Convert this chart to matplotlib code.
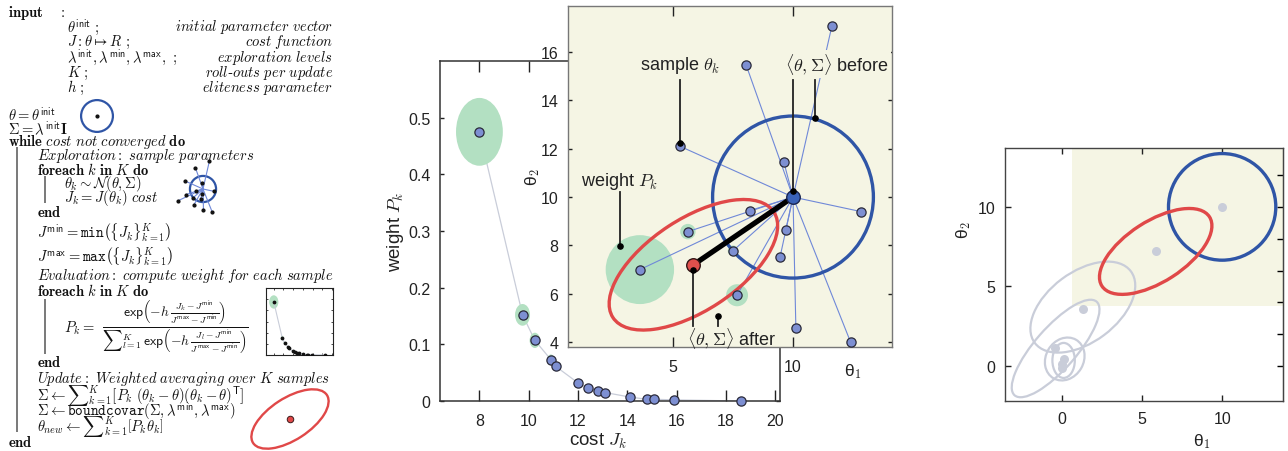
import numpy as np
import matplotlib
matplotlib.use('Agg')
import matplotlib.pyplot as plt
from matplotlib.patches import Ellipse, Circle, Rectangle

plt.rcParams['mathtext.fontset'] = 'cm'
plt.rcParams['font.family'] = ['Liberation Sans', 'DejaVu Sans']

# ---------------- data ----------------
cost = [8.0, 9.75, 10.25, 10.9, 11.1, 12.0, 12.4, 12.8, 13.1, 14.1, 14.8, 15.1, 15.9, 18.6]
weight = [0.475, 0.152, 0.107, 0.073, 0.061, 0.032, 0.023, 0.018, 0.015, 0.007, 0.003, 0.003, 0.002, 0.0]
sample_t1 = [3.62, 7.67, 5.62, 7.5, 10.12, 9.46, 8.2, 12.4, 9.7, 5.29, 9.62, 12.83, 8.04, 11.62]
sample_t2 = [7.0, 5.94, 8.57, 7.78, 4.57, 7.52, 9.44, 4.0, 8.65, 12.1, 11.44, 9.4, 15.48, 17.07]
mean_before = [10.0, 10.0]
radius_before = 3.35
mean_after = [5.85, 7.2]
after_axes = [4.0, 1.9]        # semi-axes of the updated covariance ellipse
after_angle = 33
hist_t1 = [1.3, -0.44, 0.1, 0.0, 0.0]
hist_t2 = [3.6, 1.13, 0.45, 0.1, -0.15]
hist_ell_t1 = [1.3, -0.4, 0.17, 0.1]
hist_ell_t2 = [3.7, 1.1, 0.44, 0.35]
hist_ell_a = [3.75, 3.9, 1.4, 1.1]
hist_ell_b = [2.2, 1.3, 1.18, 0.7]
hist_ell_ang = [37, 49, 60, 90]
w_xticks = [8, 10, 12, 14, 16, 18, 20]
w_yticks = [0, 0.1, 0.2, 0.3, 0.4, 0.5]
w_yticklabels = ['0', '0.1', '0.2', '0.3', '0.4', '0.5']
in_xticks = [5, 10]
in_yticks = [4, 6, 8, 10, 12, 14, 16]
r_ticks = [0, 5, 10]
r_right_ticks = [0, 2, 4, 6, 8, 10, 12]

# ---------------- style ----------------
W, H = 1288, 452
BLUE = '#2f55a6'
RED = '#e04848'
GREEN = '#b3e0c2'
PT = '#7d8fd2'
LINE = '#6f88d8'
BG = '#f5f5e4'
GRAY = '#c9cdd9'
TXT = '#222222'

fig = plt.figure(figsize=(W / 100, H / 100), dpi=100)


def px_axes(x0, y0, x1, y1, **kw):
    return fig.add_axes([x0 / W, 1 - y1 / H, (x1 - x0) / W, (y1 - y0) / H], **kw)


# ================= left: algorithm =================
at = px_axes(0, 0, 345, 452)
at.set_xlim(0, 345)
at.set_ylim(452, 0)
at.axis('off')
fs = 10.5
c0, c1, c2, cp, cr = 8, 37, 64, 67, 333


def T(x, y, s, ha='left', size=fs):
    at.text(x, y, s, ha=ha, va='center', fontsize=size, color='#111111')


T(c0, 13, r'$\mathbf{input}$')
T(58, 13, r'$:$')
rows = [
    (27, r'$\theta^{\mathsf{init}}\ ;$', r'$\mathit{initial\ parameter\ vector}$'),
    (42, r'$J: \theta \mapsto R\ ;$', r'$\mathit{cost\ function}$'),
    (58, r'$\lambda^{\mathsf{init}}, \lambda^{\mathsf{min}}, \lambda^{\mathsf{max}},\ ;$', r'$\mathit{exploration\ levels}$'),
    (73, r'$K\ ;$', r'$\mathit{roll}$-$\mathit{outs\ per\ update}$'),
    (88, r'$h\ ;$', r'$\mathit{eliteness\ parameter}$'),
]
for y, a, b in rows:
    T(cp, y, a)
    T(cr, y, b, ha='right')
T(c0, 115, r'$\theta = \theta^{\mathsf{init}}$')
T(c0, 129, r'$\Sigma = \lambda^{\mathsf{init}}\mathbf{I}$')
T(c0, 142, r'$\mathbf{while}\ \mathit{cost\ not\ converged}\ \mathbf{do}$')
T(c1, 156, r'$\mathit{Exploration:\ sample\ parameters}$')
T(c1, 170, r'$\mathbf{foreach}\ k\ \mathbf{in}\ K\ \mathbf{do}$')
T(c2, 184, r'$\theta_k \sim \mathcal{N}(\theta, \Sigma)$')
T(c2, 198, r'$J_k = J(\theta_k)\ \mathit{cost}$')
T(c1, 213, r'$\mathbf{end}$')
T(c1, 233, r'$J^{\mathsf{min}} = \mathtt{min}\left(\{J_k\}_{k=1}^{K}\right)$')
T(c1, 257, r'$J^{\mathsf{max}} = \mathtt{max}\left(\{J_k\}_{k=1}^{K}\right)$')
T(c1, 276, r'$\mathit{Evaluation:\ compute\ weight\ for\ each\ sample}$')
T(c1, 291, r'$\mathbf{foreach}\ k\ \mathbf{in}\ K\ \mathbf{do}$')
T(c2, 328, r'$P_k =$')
T(102, 328, r'$\frac{\mathsf{exp}\left(-h\,\frac{J_k - J^{\mathsf{min}}}{J^{\mathsf{max}} - J^{\mathsf{min}}}\right)}'
            r'{{\sum}_{l=1}^{K}\,\mathsf{exp}\left(-h\,\frac{J_l - J^{\mathsf{min}}}{J^{\mathsf{max}} - J^{\mathsf{min}}}\right)}$',
  size=14)
T(c1, 363, r'$\mathbf{end}$')
T(c1, 379, r'$\mathit{Update:\ Weighted\ averaging\ over\ K\ samples}$')
T(c1, 395, r'$\boldsymbol{\Sigma} \leftarrow {\sum}_{k=1}^{K}\left[P_k\ (\theta_k-\theta)(\theta_k-\theta)^{\mathsf{T}}\right]$')
T(c1, 411, r'$\boldsymbol{\Sigma} \leftarrow \mathtt{boundcovar}(\boldsymbol{\Sigma}, \lambda^{\mathsf{min}}, \lambda^{\mathsf{max}})$')
T(c1, 427, r'$\theta_{new} \leftarrow {\sum}_{k=1}^{K}\left[P_k\theta_k\right]$')
T(c0, 443, r'$\mathbf{end}$')
for x, y0, y1 in [(17, 148, 433), (45, 177, 204), (45, 300, 355)]:
    at.plot([x, x], [y0, y1], color='#555555', lw=1.1, solid_capstyle='butt')

# icon 1: initial distribution
ic1 = px_axes(78, 98, 116, 136)
ic1.axis('off')
ic1.set_xlim(mean_before[0] - 4.0, mean_before[0] + 4.0)
ic1.set_ylim(mean_before[1] - 4.0, mean_before[1] + 4.0)
ic1.add_patch(Circle(mean_before, radius_before, fill=False, ec=BLUE, lw=1.6))
ic1.scatter([mean_before[0]], [mean_before[1]], s=4, c='#111111', zorder=3)

# icon 2: sampling
ic2 = px_axes(168, 155, 238, 225)
ic2.axis('off')
r2 = 35 / 3.9
ic2.set_xlim(mean_before[0] - r2, mean_before[0] + r2)
ic2.set_ylim(mean_before[1] - r2, mean_before[1] + r2)
for x, y in zip(sample_t1, sample_t2):
    ic2.plot([mean_before[0], x], [mean_before[1], y], color=LINE, lw=0.8)
ic2.add_patch(Circle(mean_before, radius_before, fill=False, ec=BLUE, lw=1.6))
ic2.scatter(sample_t1, sample_t2, s=4, c='#111111', zorder=3)

# icon 3: mini weight plot
ic3 = px_axes(266, 289, 333, 356)
ic3.set_xlim(6.4, 20.2)
ic3.set_ylim(0, 0.6)
ic3.plot(cost, weight, color=GRAY, lw=0.8)
for c, w in zip(cost, weight):
    ic3.add_patch(Ellipse((c, w), 4 * w, 0.252 * w, color=GREEN, lw=0))
ic3.scatter(cost, weight, s=3, c='#111111', zorder=3)
ic3.set_xticks(w_xticks)
ic3.set_yticks(w_yticks)
ic3.tick_params(direction='in', length=1.5, width=0.5, labelbottom=False, labelleft=False,
                top=True, right=True)
for s in ic3.spines.values():
    s.set_linewidth(0.8)
    s.set_color('#222222')

# icon 4: new distribution
ic4 = px_axes(245, 385, 335, 455)
ic4.axis('off')
ic4.set_xlim(mean_after[0] - 45 / 11, mean_after[0] + 45 / 11)
ic4.set_ylim(mean_after[1] - 35 / 11, mean_after[1] + 35 / 11)
ic4.add_patch(Ellipse(mean_after, 2 * after_axes[0], 2 * after_axes[1], angle=after_angle,
                      fill=False, ec=RED, lw=1.7))
ic4.scatter([mean_after[0]], [mean_after[1]], s=22, c=RED, edgecolors='#3a1a1a', linewidths=0.7)

# ================= middle: weights =================
aw = px_axes(440, 62, 780, 402)
aw.set_xlim(6.4, 20.2)
aw.set_ylim(0, 0.6)
aw.plot(cost, weight, color=GRAY, lw=0.9, zorder=1)
for c, w in zip(cost, weight):
    aw.add_patch(Ellipse((c, w), 4 * w, 0.252 * w, color=GREEN, lw=0, zorder=2))
aw.scatter(cost, weight, s=44, c=PT, edgecolors='#2a2a3a', linewidths=0.9, zorder=3, clip_on=False)
aw.set_xticks(w_xticks)
aw.set_yticks(w_yticks)
aw.set_yticklabels(w_yticklabels)
aw.tick_params(axis='x', direction='in', length=8, width=1, pad=8.5, top=True, labelsize=11.5, colors=TXT)
aw.tick_params(axis='y', direction='in', length=3, width=1, pad=7, right=True, labelsize=11.5, colors=TXT)
for s in aw.spines.values():
    s.set_linewidth(1.1)
    s.set_color('#333333')
aw.set_ylabel(r'weight $P_k$', fontsize=13.5, color=TXT)
aw.yaxis.set_label_coords(-0.10, 0.5)
aw.set_xlabel(r'cost $J_k$', fontsize=13.5, color=TXT)
aw.xaxis.set_label_coords(0.465, -0.088)

# ================= middle inset: parameter space =================
ai = px_axes(568, 7, 892, 348)
ai.set_facecolor(BG)
in_xlim = (0.625, 14.125)
in_ylim = (3.8, 17.9)
ai.set_xlim(*in_xlim)
ai.set_ylim(*in_ylim)
for x, y, w in zip(sample_t1, sample_t2, weight):
    ai.add_patch(Circle((x, y), 3.0 * w, color=GREEN, lw=0, zorder=1))
for x, y in zip(sample_t1, sample_t2):
    ai.plot([mean_before[0], x], [mean_before[1], y], color=LINE, lw=0.8, zorder=2)
ai.add_patch(Circle(mean_before, radius_before, fill=False, ec=BLUE, lw=2.4, zorder=3))
ai.add_patch(Ellipse(mean_after, 2 * after_axes[0], 2 * after_axes[1], angle=after_angle,
                     fill=False, ec=RED, lw=2.4, zorder=3))
ai.plot([mean_before[0], mean_after[0]], [mean_before[1], mean_after[1]], color='black', lw=3.8,
        zorder=4, solid_capstyle='butt')
ai.scatter(sample_t1, sample_t2, s=44, c=PT, edgecolors='#2a2a3a', linewidths=0.9, zorder=5)
ai.scatter([mean_before[0]], [mean_before[1]], s=95, c='#3a62b8', edgecolors='#1a2550', linewidths=1, zorder=6)
ai.scatter([mean_after[0]], [mean_after[1]], s=95, c='#e0504c', edgecolors='#301515', linewidths=1, zorder=6)

# annotations
lab_fs = 13
ai.text(5.29, 15.5, r'sample $\theta_k$', ha='center', va='center', fontsize=lab_fs, color=TXT, zorder=8)
ai.text(11.85, 15.5, r'$\langle\theta,\boldsymbol{\Sigma}\rangle$ before', ha='center', va='center',
        fontsize=lab_fs, color=TXT, zorder=8, bbox=dict(fc=BG, ec='none', pad=1))
ai.text(2.79, 10.7, r'weight $P_k$', ha='center', va='center', fontsize=lab_fs, color=TXT, zorder=8)
ai.text(7.45, 4.2, r'$\langle\theta,\boldsymbol{\Sigma}\rangle$ after', ha='center', va='center',
        fontsize=lab_fs, color=TXT, zorder=8)
leaders = [
    (sample_t1[9], 14.85, sample_t2[9] + 0.15),
    (mean_before[0], 14.85, mean_before[1] + 0.27),
    (10.92, 14.85, 13.25),
    (2.79, 10.2, 7.98),
    (mean_after[0], 4.65, mean_after[1] - 0.2),
    (6.875, 4.65, 5.07),
]
for x, y0, y1 in leaders:
    ai.plot([x, x], [y0, y1], color='#222222', lw=1.3, zorder=7)
    ai.scatter([x], [y1], s=14, c='black', zorder=7)

ai.set_xticks(in_xticks)
ai.set_yticks(in_yticks)
ai.tick_params(axis='x', direction='in', length=7, width=1, pad=8.5, top=True, labelsize=11.5, colors=TXT)
ai.tick_params(axis='y', direction='in', length=3, width=1, pad=7, right=True, labelsize=11.5, colors=TXT)
for s in ai.spines.values():
    s.set_linewidth(1.0)
    s.set_color('#777777')
ai.set_ylabel(r'θ$_\mathsf{2}$', fontsize=12.5, color=TXT)
ai.yaxis.set_label_coords(-0.08, 0.5)
ai.set_xlabel(r'θ$_\mathsf{1}$', fontsize=12.5, color=TXT)
ai.xaxis.set_label_coords(0.88, -0.041)

# ================= right: history =================
ar = px_axes(1005, 149, 1283, 402)
ar.set_xlim(-3.56, 13.8)
ar.set_ylim(-2.2, 13.7)
ar.add_patch(Rectangle((in_xlim[0], in_ylim[0]), in_xlim[1] - in_xlim[0], in_ylim[1] - in_ylim[0],
                       color=BG, lw=0, zorder=0))
for x, y, a, b, g in zip(hist_ell_t1, hist_ell_t2, hist_ell_a, hist_ell_b, hist_ell_ang):
    ar.add_patch(Ellipse((x, y), 2 * a, 2 * b, angle=g, fill=False, ec=GRAY, lw=1.6, zorder=1))
ar.scatter([mean_before[0], mean_after[0]] + hist_t1, [mean_before[1], mean_after[1]] + hist_t2,
           s=42, c=GRAY, lw=0, zorder=2)
ar.add_patch(Circle(mean_before, radius_before, fill=False, ec=BLUE, lw=2.4, zorder=3))
ar.add_patch(Ellipse(mean_after, 2 * after_axes[0], 2 * after_axes[1], angle=after_angle,
                     fill=False, ec=RED, lw=2.4, zorder=3))
ar.set_xticks(r_ticks)
ar.set_yticks(r_ticks)
ar.tick_params(direction='in', length=4, width=1, pad=7, top=True, labelsize=11.5, colors=TXT)
sec = ar.secondary_yaxis('right')
sec.set_yticks(r_right_ticks)
sec.tick_params(direction='in', length=4, width=1, labelright=False)
sec.spines['right'].set_color('#444444')
for s in ar.spines.values():
    s.set_linewidth(1.0)
    s.set_color('#444444')
ar.set_ylabel(r'θ$_\mathsf{2}$', fontsize=12.5, color=TXT)
ar.yaxis.set_label_coords(-0.115, 0.68)
ar.set_xlabel(r'θ$_\mathsf{1}$', fontsize=12.5, color=TXT)
ar.xaxis.set_label_coords(0.709, -0.119)

fig.savefig('out.png', dpi=100)
